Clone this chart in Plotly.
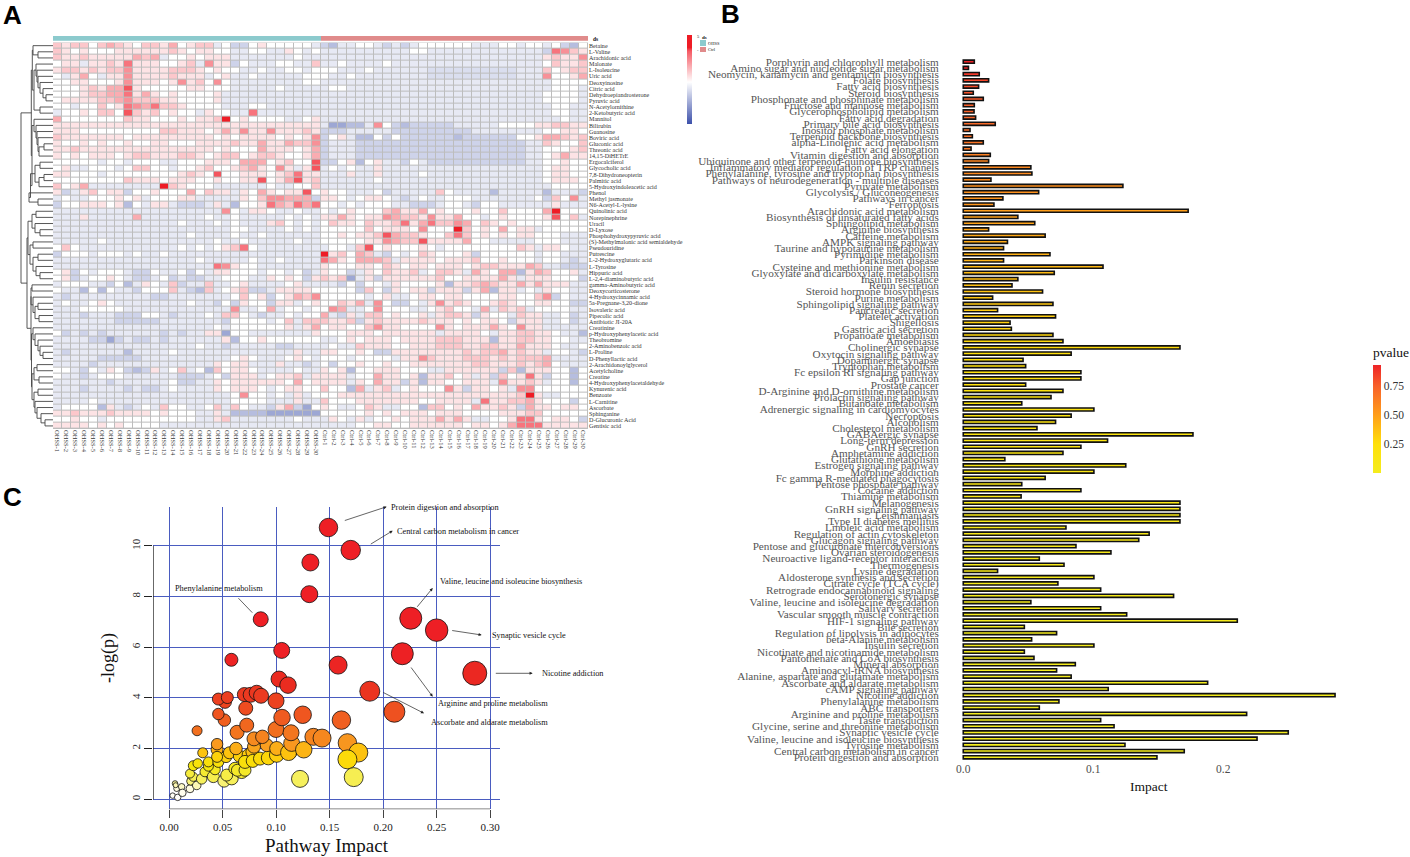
import plotly.graph_objects as go

W, H = 1410, 857
SERIF = "Liberation Serif"

# ---------- Panel A data ----------
metabolites = ["Betaine","L-Valine","Arachidonic acid","Malonate","L-Isoleucine","Uric acid","Deoxyinosine","Citric acid","Dehydroepiandrosterone","Pyruvic acid","N-Acetylornithine","2-Ketobutyric acid","Mannitol","Bilirubin","Guanosine","Boviric acid","Gluconic acid","Threonic acid","14,15-DiHETrE","Ergocalciferol","Glycocholic acid","7,8-Dihydroneopterin","Palmitic acid","5-Hydroxyindoleacetic acid","Phenol","Methyl jasmonate","N6-Acetyl-L-lysine","Quinolinic acid","Norepinephrine","Uracil","D-Lyxose","Phosphohydroxypyruvic acid","(S)-Methylmalonic acid semialdehyde","Pseudouridine","Putrescine","L-2-Hydroxyglutaric acid","L-Tyrosine","Hippuric acid","L-2,4-diaminobutyric acid","gamma-Aminobutyric acid","Deoxycorticosterone","4-Hydroxycinnamic acid","5a-Pregnane-3,20-dione","Isovaleric acid","Pipecolic acid","Antibiotic JI-20A","Creatinine","p-Hydroxyphenylacetic acid","Theobromine","2-Aminobenzoic acid","L-Proline","D-Phenyllactic acid","2-Arachidonoylglycerol","Acetylcholine","Creatine","4-Hydroxyphenylacetaldehyde","Kynurenic acid","Benzoate","L-Carnitine","Ascorbate","Sphinganine","D-Glucuronic Acid","Gentisic acid"]
samples = ["OHSS-%d" % i for i in range(1, 31)] + ["Ctrl-%d" % i for i in range(1, 31)]
sample_group = [0]*30 + [1]*30

heat_ohss = [
[2,1,2,2,0,2,3,2,1,0,2,2,1,3,0,1,2,2,-1,0,-2,-2,0,1,0,0,0,0,0,-1],
[2,1,0,1,0,0,0,1,1,1,1,1,1,2,1,0,1,1,0,0,-1,-1,0,0,-1,-1,1,0,-1,0],
[2,1,1,2,1,1,1,1,1,3,2,3,-1,0,0,1,0,1,1,1,-1,-1,-1,-1,-1,-1,-1,0,-1,-1],
[0,1,1,-1,1,1,2,1,5,1,1,1,0,0,1,2,-1,4,1,1,-2,0,-1,-1,-1,0,0,-1,-1,2],
[1,2,2,1,2,1,2,2,4,1,1,1,1,2,2,2,1,0,1,0,0,-1,-1,0,-1,-1,0,0,-1,0],
[0,-1,1,3,0,-1,1,1,4,1,1,1,1,2,1,1,1,-1,0,1,-1,-1,0,-1,-1,-1,-1,-1,0,0],
[0,0,1,1,0,0,0,1,4,1,1,1,0,1,4,1,2,0,4,0,-1,-1,-1,-1,-1,-1,-1,-1,0,0],
[0,0,0,1,2,1,3,3,6,1,0,0,0,0,0,1,1,0,0,0,-1,-1,-1,-1,-1,0,-1,-1,-1,-1],
[0,0,0,1,2,2,3,3,5,1,3,1,0,1,0,0,0,0,1,-1,-1,-1,-1,-1,-1,-1,-1,-1,-1,-1],
[0,1,1,1,1,2,2,3,4,2,2,2,1,1,0,0,0,0,1,-1,-1,-1,-1,-1,-1,-1,-1,-1,-1,-1],
[0,0,-1,0,0,2,0,1,5,4,3,5,2,2,1,0,0,0,0,-1,-1,-1,0,0,-1,-1,-1,-1,-1,-1],
[-1,0,0,1,0,2,2,0,6,2,1,2,0,1,0,0,-1,1,0,0,-1,-1,5,-1,-1,-1,-1,-1,-1,-1],
[3,0,0,0,0,0,0,0,2,1,1,0,0,0,1,0,1,1,2,7,0,1,0,0,0,0,-1,-1,0,1],
[1,1,1,1,1,1,1,1,1,1,1,1,1,1,1,1,1,1,1,1,1,1,1,1,1,1,1,1,1,1],
[1,1,1,0,0,0,0,0,0,0,0,0,2,2,1,1,1,0,1,3,1,4,1,1,4,1,1,1,2,1],
[2,1,1,1,1,1,1,1,0,1,1,1,1,1,1,1,1,1,0,1,0,1,1,1,1,0,1,0,1,4],
[1,0,0,1,0,1,0,0,1,0,0,1,1,0,0,0,1,1,1,1,2,1,1,3,1,1,3,2,2,4],
[1,1,2,1,1,1,1,1,1,1,1,1,1,1,1,1,1,1,0,1,0,0,0,3,1,1,1,0,1,3],
[1,0,1,0,1,1,1,0,1,2,2,1,1,1,2,2,1,0,1,2,2,0,1,2,2,1,0,0,1,3],
[0,0,0,0,0,-1,0,0,-1,0,0,0,-1,-1,0,0,0,1,1,1,0,3,3,3,0,1,2,0,0,6],
[0,1,-1,-1,0,0,0,-1,0,2,2,0,0,-1,0,0,1,2,0,0,1,2,3,1,0,4,1,-1,1,6],
[1,1,0,0,0,-1,0,0,0,0,0,0,0,0,1,2,1,0,6,0,0,1,1,1,0,1,2,5,1,1],
[0,0,0,0,0,0,0,0,2,1,1,1,0,1,1,1,0,0,1,0,0,1,1,6,0,1,3,6,1,2],
[2,0,1,3,-1,-1,-1,-1,-1,-1,-1,-1,7,2,1,0,0,0,-1,-1,-1,-1,-1,-1,0,-1,-1,0,0,2],
[1,-2,-1,1,2,0,1,1,-2,0,0,1,0,0,0,3,0,2,1,1,-1,1,0,3,1,0,1,1,6,0],
[-1,0,-1,-1,0,0,0,1,0,1,-1,0,0,0,1,1,-1,-1,-1,-1,-1,1,0,2,4,4,3,3,3,-2],
[-2,0,0,1,1,1,0,1,-3,0,-1,1,1,-1,-2,-2,-2,-1,1,-1,-3,0,0,1,5,3,2,5,3,5],
[-1,-1,-1,-1,-1,-1,-1,-1,-1,-1,-1,-1,-1,-1,-1,-1,-1,-1,-1,4,0,-1,1,1,0,-1,-1,0,-1,-1],
[-1,-1,-1,1,-1,-1,-1,-1,-1,3,-1,-1,-1,-1,-1,-1,-1,0,-1,-1,0,-1,-1,-1,-1,-1,0,-1,0,-1],
[-1,-1,-1,-1,-1,-1,-1,-1,-1,-1,-1,-1,-1,-1,0,-1,-1,-1,0,-1,0,-1,-1,-1,1,2,0,-1,0,-1],
[-1,-1,-1,-1,-1,-1,-1,-1,-1,-1,-1,-1,-1,-1,-1,-1,-1,-1,-1,-1,0,0,-1,-1,-1,-1,0,-1,0,-1],
[-1,-1,-1,-1,-1,-1,-1,-1,-1,-1,-1,-1,-1,-1,-1,0,-1,-1,-1,-1,0,-1,-1,0,-1,-1,-1,-1,-1,-1],
[-1,-1,-1,-1,-1,0,-1,-1,-1,-1,-1,-1,-1,-1,-1,-1,-1,-1,0,-1,-1,0,-1,-1,-1,-1,-1,0,-1,-1],
[0,2,0,-1,-1,-1,-1,-1,-1,-1,-1,-1,-1,-1,0,-1,0,-1,0,1,2,5,0,-1,-1,-1,-1,-1,-1,-1],
[-2,0,0,0,-1,0,0,0,-1,0,-1,-1,0,-1,-1,-1,-1,-1,-1,-1,-1,-1,-1,-1,-1,-1,-1,-1,-1,-1],
[-1,-1,-1,-1,-1,-1,-1,-1,-1,-1,-1,-1,-1,-1,-1,-1,0,-1,-1,-1,-1,-1,0,-1,-1,0,-1,-1,-1,-1],
[-1,-1,-1,-1,-1,-1,-1,-1,-1,-1,-1,-1,-1,-1,-1,-1,-1,-1,5,4,1,0,0,-1,-1,-1,-1,-1,-1,-1],
[0,1,-2,0,-1,0,0,0,-1,-2,-2,0,-1,-1,0,-2,0,-1,1,1,0,0,0,-1,0,0,-1,0,-2,-1],
[0,1,-2,-1,0,0,1,0,-1,-2,-2,-1,0,-2,-1,-2,-2,-1,-1,0,0,0,-1,-1,1,0,1,0,-2,1],
[-1,0,0,0,-1,-1,-2,0,-3,-1,1,0,-1,2,-2,-1,-1,2,-1,-1,0,1,-1,-1,-1,-1,0,1,-1,-1],
[0,-1,-1,-3,0,-3,0,-1,-1,-2,0,0,0,2,-1,-2,-3,2,-1,0,1,2,-2,-2,-1,1,1,1,1,0],
[-1,-2,-1,-1,-1,-1,-1,-1,-1,-1,-1,-2,-2,-1,-1,-1,-1,-1,-1,-1,0,2,0,1,-2,0,1,3,2,4],
[-1,0,-1,-1,0,1,0,-1,-1,-1,-1,-1,-1,-1,-1,0,-1,-1,-2,0,-2,1,0,0,-2,1,1,-1,0,1],
[-1,-1,-1,0,0,0,0,0,-1,-1,-1,-1,-1,-1,-1,-1,-1,-1,-1,-1,4,-1,-1,0,3,-1,0,0,-1,0],
[-1,-1,-1,-2,-1,-1,-1,-2,-2,-2,0,0,-1,-2,-1,-1,-1,0,-1,2,2,0,-1,-2,-1,-1,0,-1,0,0],
[-1,-1,-1,-1,-1,-1,-1,-2,-2,-2,-2,-2,-1,-1,-1,-1,-1,-1,-1,-2,0,0,0,0,-1,0,2,-1,2,2],
[-1,-1,-1,-1,-1,-1,-1,-1,-1,-1,-1,-1,-1,-1,-1,-1,-1,-1,0,-1,0,0,0,0,0,0,1,-1,1,3],
[0,-2,-1,-2,-1,-2,-1,-1,-1,-1,-1,-1,-2,-1,-2,-1,-1,1,1,-4,0,0,-1,-1,-1,-1,-1,-1,-1,1],
[-1,-1,-1,-1,-2,-2,-4,-2,-1,-2,-2,-1,-2,-1,-1,-1,-1,-1,-1,1,-3,0,0,1,0,0,0,0,0,0],
[-1,-1,-1,-1,-1,-1,-1,-1,-1,-1,-1,-1,-1,-1,-1,-1,0,-1,-1,-2,-1,-1,-1,-1,-1,-2,-2,-1,-1,-1],
[-1,-2,-1,-1,-1,-1,-1,-1,-3,-1,-1,-1,-1,0,-1,-1,-1,-1,-1,-1,-1,-1,-1,-1,-1,-1,-1,1,-1,-1],
[-1,-1,-1,-1,-1,-2,-2,-2,-2,-2,-1,-1,-1,-1,-1,-1,-1,-1,-1,-1,0,1,0,-1,-1,-1,0,1,0,-1],
[-1,-1,-1,-1,-2,-1,-1,-1,-1,-1,-1,-1,-1,-1,-1,-1,-1,-1,1,0,1,1,-1,-1,-1,1,-1,-1,-2,-1],
[0,0,-1,-2,0,-1,1,0,-2,-3,-2,1,-1,0,2,-1,0,-3,2,0,1,1,0,-1,-1,-1,-1,0,-1,-1],
[0,-1,-1,-2,-1,0,0,0,-1,-1,-1,-1,-1,-1,-2,-2,-2,-1,0,-2,1,1,1,-1,0,1,1,2,-1,1],
[-1,-1,-1,-1,-1,-1,-2,-1,-1,-1,-1,-1,-1,0,-2,-2,-1,-1,1,0,1,1,1,1,1,1,0,3,0,1],
[-1,-1,-1,-2,-1,-1,-1,-1,-2,-1,-2,-2,-1,0,-1,-1,-1,-1,1,0,1,1,1,0,-1,0,1,1,0,0],
[-1,-1,-1,-1,-1,-1,-1,-1,-1,-1,-1,-1,-1,-1,-1,-1,-1,-1,-1,-1,0,4,0,0,-1,0,-1,1,-1,0],
[-1,-1,-1,-1,0,-1,-1,-1,-1,-1,-1,-1,-1,-1,-1,-1,-1,-1,-1,-1,0,0,0,0,-1,-1,-1,1,-1,-1],
[-1,0,0,0,0,-3,1,-1,-2,-1,0,-1,2,0,0,-1,-1,0,2,-1,2,0,-1,-1,-2,1,3,-2,-4,0],
[1,1,2,1,1,1,2,1,1,1,1,0,1,0,0,0,-1,-1,1,-1,-3,-3,-3,-3,-4,-4,-4,-4,-4,-4],
[0,0,1,0,0,-1,0,0,0,0,0,0,0,0,0,0,-1,-1,1,2,-1,-1,-1,-1,-1,-1,-1,0,-1,-1],
[1,1,1,1,0,1,0,1,0,0,0,0,-1,-1,-1,-1,-1,-1,-1,-1,-1,-1,-1,-1,-1,-1,-1,-1,-1,-1],
]
heat_ctrl = [
[-2,-3,-1,-1,0,0,-1,-2,-1,-2,-1,0,0,0,0,0,0,-1,-1,-1,0,0,-1,0,0,-1,0,-2,-3,0],
[-1,-1,-1,-1,-1,-1,-1,-1,-1,-1,0,0,-1,-1,-1,-1,-1,-1,-1,-1,-1,-1,-1,-1,-1,-2,5,4,2,1],
[-1,-1,-1,-1,-1,-1,-1,-1,-1,-1,-1,-1,-1,-1,-1,-1,-1,-1,-1,-1,-1,-1,-1,-1,-1,1,2,1,1,4],
[-1,-1,0,-1,-1,-1,-1,0,-1,-1,-1,-1,-1,-1,-1,-1,-1,-1,-1,-1,-1,-1,-1,-1,-1,0,2,1,1,2],
[0,0,-1,-1,-1,0,-1,-1,-1,-1,-1,-1,-1.5,-1.5,-1.5,-1.5,-1.5,-1.5,-1.5,-1.5,-1.5,-1.5,-1,-1,-1,2,0,1,2,2],
[0,-1,-1,0,-1,-1,-1,-1,-1,-1,-1,-1,-1.5,-1.5,-1.5,-1.5,-1.5,-1.5,-1.5,-1.5,-1.5,-1.5,-1,-1,-1,4,0,0,1,3],
[-1,-1,-1,-1,-1,-1,-1,-1,-1,-1,-1,-1,-1,-1,-1,-1,-1,-1,-1,-1,-1,-1,-1,-1,-1,-1,0,0,0,0],
[-1,0,0,-1,-1,-1,-1,-1,-1,-1,-1,-1,-1,-1,-1,-1,-1,-1,-1,-1,-1,-1,-1,-1,-1,-1,0,0,0,-1],
[-1,-1,-1,-1,-1,-1,-1,-1,-1,-1,-1,-1,-1,-1,-1,-1,-1,-1,-1,-1,-1,-1,-1,-1,-1,0,0,0,0,-1],
[-1,-1,-1,-1,-1,-1,-1,-1,-1,-1,-1,-1,-1,-1,-1,-1,-1,-1,-1,-1,-1,-1,-1,-1,-1,0,0,0,0,-1],
[-1,-1,-1,-1,-1,-1,-1,-1,-1,-1,-1,-1,-1,-1,-1,-1,-1,-1,-1,-1,-1,-1,-1,-1,-1,-1,0,0,-1,-1],
[-1,-1,-1,-1,-1,-1,-1,-1,-1,-1,-1,-1,-1,-1,-1,-1,-1,-1,-1,-1,-1,-1,-1,-1,-1,-1,0,0,-1,-1],
[-1,-1,-1,-1,-1,-1,-1,-1,-1,-1,-1,-1,-1,-1,-1,-1,-1,-1,-1,-1,-1,-1,-1,-1,-1,-1,-1,0,-1,-1],
[-1,-4,-4,-3,-3,-1,4,0,-2,-3,-2,-2,-2,-2,-2,-1,-1,-1,-1,-1,0,0,0,0,1,1,2,2,1,1],
[-2,-2,-2,-1,-1,-1,-1,-1,-2,-2,-2,-2,-2,-2,-2,-2,-2,-1,-1,-1,-1,-1,-1,-1,-1,0,0,1,1,0],
[-2,0,1,-1,-3,-3,0,-2,0,-2,-2,-2,-2,-2,-2,-3,-2,-2,-2,-2,-2,-2,0,0,1,3,3,2,1,2],
[-2,-1,-1,-1,-2,-2,-2,-2,-2,-2,-2,-2,-2,-2,-2,-2,-2,-2,-2,-2,-2,-2,-2,-1,-1,2,1,0,0,2],
[-2,-1,-1,-1,-2,-2,-2,-2,-2,-2,-2,-2,-2,-2,-2,-2,-2,-2,-2,-2,-2,-2,-2,-1,-1,0,0,0,1,2],
[-2,-1,-1,-1,-2,-2,-2,-2,-2,-2,-2,-2,-2,-2,-2,-2,-2,-2,-2,-2,-2,-2,-2,-1,-1,0,1,3,1,1],
[-2,-2,0,1,-3,0,1,-1,-1,-2,0,-1,-2,-2,-2,-2,-2,-2,-2,-2,-2,-2,-2,-1,-1,0,0,1,0,0],
[-1,0,-1,0,-1,-1,1,-1,-1,-1,-1,-1,-1,-1,-1,-1,-1,-1,-1,-1,-1,-1,-1,-1,-1,0,1,1,0,0],
[-1,-1,-1,1,-1,-1,1,-1,-1,-1,-1,0,-1,-1,-1,-1,-1,-1,-1,-1,-1,-1,-1,-1,-1,0,1,1,0,0],
[-1,-1,-1,-1,-1,-1,0,-1,-1,-1,-1,-1,-1,-1,-1,-1,-1,-1,-1,-1,-1,-1,-1,-1,-1,0,1,1,1,0],
[-1,-1,-1,-1,-1,-1,-1,-1,-1,-1,-1,-1,-1,-1,-1,-1,-1,-1,-1,-1,-1,-1,-1,-1,-1,-1,0,0,0,0],
[1,0,0,-1,-1,-1,0,-2,-1,-1,-1,-1,-1,2,0,-1,-1,-1,-1,-3,-1,-1,-1,-1,-1,-3,-1,-1,-1,-2],
[1,1,0,-1,0,1,1,0,-1,-2,-1,0,-1,-1,0,0,0,-1,-1,-1,-1,-1,-1,-1,0,-2,2,0,4,-1],
[0,0,-1,0,-1,0,0,0,-1,-1,-2,-2,-2,-1,0,0,-1,-2,0,0,-1,-1,-1,-1,-1,-1,1,-1,-1,-1],
[0,-1,0,1,0,0,0,2,3,1,1,3,0,1,0,0,0,1,0,0,2,0,0,0,0,3,7,0,0,0],
[1,1,3,1,0,1,1,4,3,2,2,1,4,1,1,3,0,0,-1,0,1,0,0,0,0,1,6,0,2,-1],
[0,2,1,1,0,2,1,1,2,5,1,3,5,2,2,4,3,0,2,1,0,1,0,0,0,0,0,0,0,0],
[0,0,0,0,0,2,0,1,1,1,0,4,0,0,0,7,2,0,1,0,3,0,1,1,-1,0,0,0,0,0],
[0,0,1,0,1,1,2,6,3,2,2,1,0,0,2,5,2,0,1,0,1,0,1,1,0,0,0,-1,-1,-1],
[0,0,0,0,0,1,1,4,3,2,2,6,1,1,1,1,3,0,0,-1,-1,-1,-1,-1,0,0,0,-1,-1,-1],
[-1,0,0,-1,2,6,0,1,0,0,0,1,0,-1,0,0,0,0,0,0,0,0,2,1,-1,1,1,0,-1,-1],
[7,1,2,0,3,2,-1,-2,0,-1,0,2,1,0,0,0,1,-2,0,0,0,0,0,0,-1,0,0,-1,-1,-1],
[5,3,1,0,3,3,3,2,-1,1,1,1,1,0,1,1,1,2,0,0,1,0,0,0,-1,0,0,-1,-2,-1],
[1,0,0,0,1,1,0,2,1,0,1,1,0,1,1,1,0,1,2,2,1,1,1,3,2,-1,-1,-2,-2,-2],
[1,0,0,-2,-1,1,0,2,1,1,2,-1,0,2,2,1,-1,3,1,0,3,3,-3,1,3,2,0,0,1,-1],
[2,1,2,-4,-1,1,-2,1,1,1,1,1,1,2,0,0,1,1,1,1,3,1,-1,1,1,1,0,0,0,-2],
[-1,-1,-2,0,-2,0,0,-1,1,0,0,0,0,1,-3,1,1,2,3,2,1,1,3,1,3,1,1,1,-1,-1],
[0,0,0,0,-2,2,0,-2,1,0,1,1,-2,1,1,1,-2,1,3,-3,1,1,-1,0,-1,1,0,0,-1,-1],
[0,0,0,0,0,-1,0,1,-1,-1,0,1,1,0,1,1,0,0,0,0,1,1,0,0,2,4,-2,0,-1,-1],
[0,0,2,1,3,-1,4,0,-2,-2,0,-1,1,4,1,2,1,0,0,1,2,1,0,0,1,1,0,0,-2,-2],
[0,4,3,-1,-1,0,4,0,0,0,-1,-1,0,1,2,0,0,-1,3,-1,2,1,2,-1,0,0,0,0,-1,-1],
[3,-1,-2,1,-1,2,2,0,1,0,0,1,-1,1,2,2,1,-2,1,0,0,-1,2,1,1,-1,-1,0,-2,-1],
[2,1,1,2,-2,1,2,1,1,1,1,2,1,1,1,0,1,0,1,1,0,-2,1,1,1,-1,-1,0,-2,-1],
[0,1,1,0,0,2,4,1,1,0,0,0,0,4,1,0,1,1,1,3,1,0,4,1,1,-1,-1,-1,-1,-1],
[0,0,0,1,1,1,0,1,1,1,1,1,1,-1,1,1,1,1,0,-1,1,1,2,2,1,1,0,-1,-1,-3],
[-1,-1,0,1,0,1,1,1,0,1,1,1,1,2,2,2,1,1,1,-3,1,1,2,2,1,1,0,0,-1,-1],
[-1,0,-1,-1,2,1,1,1,0,0,1,1,1,2,2,2,1,1,2,2,1,1,3,1,1,1,0,-1,-1,0],
[1,1,0,0,1,0,-2,-2,1,1,1,1,1,1,1,1,2,1,2,2,3,1,2,1,1,-1,0,0,-1,-2],
[0,0,0,-1,0,0,0,0,-1,1,1,4,2,1,1,1,2,2,2,1,2,1,2,2,2,3,-1,-1,-1,-1],
[0,-2,0,0,1,0,0,1,0,0,1,1,1,1,1,1,1,2,2,1,1,1,2,1,2,3,0,-1,-1,-1],
[1,0,1,-3,0,0,1,1,1,0,0,0,-1,-1,1,1,1,1,1,1,-2,2,-3,1,1,1,0,0,-3,0],
[1,1,1,-1,0,0,3,1,1,0,1,-3,1,1,2,0,1,-1,1,-2,2,0,1,5,1,-2,0,0,-3,0],
[1,1,1,-1,1,0,3,1,1,-2,1,-3,1,1,0,0,1,1,1,-1,4,1,1,2,1,-1,0,0,-3,0],
[2,0,0,-3,3,-1,1,2,-1,0,1,0,0,0,4,1,-2,1,1,0,1,-1,4,4,0,0,0,0,0,0],
[0,0,1,1,1,1,1,1,1,1,1,1,1,1,1,1,1,1,1,1,1,1,2,7,1,-1,-1,0,0,0],
[2,0,0,0,1,1,1,1,1,1,1,0,0,1,1,1,1,-1,5,1,1,2,2,3,1,0,0,0,-2,0],
[1,0,-1,-1,0,2,1,-1,-1,0,0,-3,2,2,0,1,0,3,1,1,2,1,-2,3,1,1,0,1,1,0],
[0,0,0,0,0,1,0,1,0,1,1,1,0,1,1,1,0,0,0,0,1,1,1,2,2,0,0,0,0,0],
[-1,1,0,-1,1,-1,0,0,1,0,1,1,1,3,1,3,1,-1,-1,0,0,1,5,5,1,0,1,1,0,-2],
[-1,-1,-1,-1,0,0,1,1,0,0,1,1,1,1,1,1,0,1,1,0,1,3,5,5,5,1,1,1,1,1],
]
# Row clustering: [merge height, left, right]; integers are row indices
cluster_top = [21.7,
    [20.7, [20, 0, [15, 1, 2]],
           [19, [17, 3, [16, 4, [15, 5, [13, 6, [10, 7, [7, 8, 9]]]]]], [13, 10, 11]]],
    [21, [19, 12, [17, 13, [16, 14, [15, 15, [14, [9, 16, 17], 18]]]]],
         [22.5, [18, [13, 19, 20], [14, [9, 21, 22], 23]], [24, 24, [15, 25, 26]]]]]
cluster_low = [26,
    [25, [21, [17, 27, 28], [18, 29, [13, 30, 31]]],
         [23, [20, 32, 33], [20, [15, 34, 35], [17, 36, [13, 37, 38]]]]],
    [22, [22, [21, 39, 40], [20, 41, [18, [15, 42, 43], [14, 44, 45]]]],
         [21.5, [20, 46, [18, 47, [15, 48, [13, 49, [10, 50, 51]]]]],
                [21, [19, [16, 52, 53], [14, 54, 55]], [19, [15, 56, 57], [18, 58, [16, 59, [12, 60, [8, 61, 62]]]]]]]]]
cluster_root = [32, cluster_top, cluster_low]

# ---------- Panel B data ----------
pathways = ["Porphyrin and chlorophyll metabolism","Amino sugar and nucleotide sugar metabolism","Neomycin, kanamycin and gentamicin biosynthesis","Folate biosynthesis","Fatty acid biosynthesis","Steroid biosynthesis","Phosphonate and phosphinate metabolism","Fructose and mannose metabolism","Glycerophospholipid metabolism","Fatty acid degradation","Primary bile acid biosynthesis","Inositol phosphate metabolism","Terpenoid backbone biosynthesis","alpha-Linolenic acid metabolism","Fatty acid elongation","Vitamin digestion and absorption","Ubiquinone and other terpenoid-quinone biosynthesis","Inflammatory mediator regulation of TRP channels","Phenylalanine, tyrosine and tryptophan biosynthesis","Pathways of neurodegeneration - multiple diseases","Pyruvate metabolism","Glycolysis / Gluconeogenesis","Pathways in cancer","Ferroptosis","Arachidonic acid metabolism","Biosynthesis of unsaturated fatty acids","Sphingolipid metabolism","Arginine biosynthesis","Caffeine metabolism","AMPK signaling pathway","Taurine and hypotaurine metabolism","Pyrimidine metabolism","Parkinson disease","Cysteine and methionine metabolism","Glyoxylate and dicarboxylate metabolism","Insulin resistance","Renin secretion","Steroid hormone biosynthesis","Purine metabolism","Sphingolipid signaling pathway","Pancreatic secretion","Platelet activation","Shigellosis","Gastric acid secretion","Propanoate metabolism","Amoebiasis","Cholinergic synapse","Oxytocin signaling pathway","Dopaminergic synapse","Tryptophan metabolism","Fc epsilon RI signaling pathway","Gap junction","Prostate cancer","D-Arginine and D-ornithine metabolism","Prolactin signaling pathway","Butanoate metabolism","Adrenergic signaling in cardiomyocytes","Necroptosis","Alcoholism","Cholesterol metabolism","GABAergic synapse","Long-term depression","GnRH secretion","Amphetamine addiction","Glutathione metabolism","Estrogen signaling pathway","Morphine addiction","Fc gamma R-mediated phagocytosis","Pentose phosphate pathway","Cocaine addiction","Thiamine metabolism","Melanogenesis","GnRH signaling pathway","Leishmaniasis","Type II diabetes mellitus","Linoleic acid metabolism","Regulation of actin cytoskeleton","Glucagon signaling pathway","Pentose and glucuronate interconversions","Ovarian steroidogenesis","Neuroactive ligand-receptor interaction","Thermogenesis","Lysine degradation","Aldosterone synthesis and secretion","Citrate cycle (TCA cycle)","Retrograde endocannabinoid signaling","Serotonergic synapse","Valine, leucine and isoleucine degradation","Salivary secretion","Vascular smooth muscle contraction","HIF-1 signaling pathway","Bile secretion","Regulation of lipolysis in adipocytes","beta-Alanine metabolism","Insulin secretion","Nicotinate and nicotinamide metabolism","Pantothenate and CoA biosynthesis","Mineral absorption","Aminoacyl-tRNA biosynthesis","Alanine, aspartate and glutamate metabolism","Ascorbate and aldarate metabolism","cAMP signaling pathway","Nicotine addiction","Phenylalanine metabolism","ABC transporters","Arginine and proline metabolism","Taste transduction","Glycine, serine and threonine metabolism","Synaptic vesicle cycle","Valine, leucine and isoleucine biosynthesis","Tyrosine metabolism","Central carbon metabolism in cancer","Protein digestion and absorption"]
impact = [.0085,.004,.0123,.0195,.0118,.0077,.0154,.0085,.0083,.0095,.0246,.0052,.007,.0154,.006,.0208,.0195,.052,.0528,.0213,.1228,.058,.0305,.0236,.173,.042,.055,.0195,.063,.034,.031,.0667,.031,.1075,.07,.042,.0375,.061,.0226,.069,.0264,.071,.036,.037,.069,.0767,.1667,.083,.046,.048,.0905,.0905,.048,.0767,.0675,.045,.1005,.083,.071,.0567,.1767,.111,.0905,.0767,.032,.125,.1005,.063,.045,.0905,.0445,.1667,.1667,.1667,.1667,.079,.143,.135,.0867,.1136,.0585,.0775,.0264,.1005,.0728,.1057,.1618,.052,.1057,.1257,.2108,.047,.0718,.0526,.1005,.047,.0544,.0862,.0718,.083,.188,.1115,.286,.0736,.0585,.218,.1057,.116,.25,.226,.1244,.17,.149]
pvalue = [.93,.92,.87,.83,.81,.79,.77,.75,.74,.73,.71,.7,.69,.67,.66,.62,.6,.59,.58,.57,.56,.55,.54,.53,.5,.49,.48,.47,.46,.45,.44,.43,.42,.4,.39,.38,.37,.36,.35,.34,.33,.32,.31,.3,.29,.28,.27,.26,.25,.24,.24,.23,.22,.21,.21,.2,.19,.19,.18,.17,.17,.16,.16,.15,.14,.14,.13,.13,.12,.12,.11,.11,.1,.1,.09,.09,.08,.08,.07,.07,.07,.06,.06,.05,.05,.05,.04,.04,.04,.03,.03,.03,.02,.02,.02,.02,.02,.01,.01,.01,.01,.01,.007,.005,.004,.003,.002,.002,.001,.001,.001,.0001,.00002]

# ---------- Panel C data ----------
bubble_impact = [.0034,.0056,.0072,.0062,.0081,.0118,.0125,.0196,.0202,.0259,.0227,.0305,.0196,.0336,.0414,.0514,.0586,.0539,.043,.0368,.0227,.0268,.0368,.0461,.0679,.0617,.0639,.071,.0315,.0449,.0449,.0533,.0564,.0657,.0741,.071,.0779,.0782,.085,.0928,.1006,.1125,.0626,.0794,.0794,.0913,.1006,.0872,.0449,.0262,.0636,.0726,.1,.0517,.0461,.0717,.0523,.0461,.0545,.0704,.0763,.0819,.086,.1,.1056,.1028,.1112,.0583,.1053,.0857,.1117,.1146,.114,.1259,.1224,.1349,.143,.1667,.1769,.1667,.1726,.1249,.1611,.2106,.1876,.158,.218,.2857,.2259,.2501,.1311,.1321,.1698,.149]
bubble_logp = [.14,.62,.42,.55,.07,.49,.25,.41,.71,.54,.88,.8,1.01,1.08,.89,.72,.82,.95,1.17,1.3,1.32,1.41,1.47,1.47,1.08,1.21,1.14,1.14,1.83,1.96,2.17,1.67,1.83,1.7,1.74,1.47,1.87,1.51,1.6,1.63,1.74,1.86,2.0,2.07,2.38,2.13,2.0,2.46,1.67,2.7,2.64,2.92,2.75,3.12,3.36,3.59,3.84,3.95,4.01,4.13,4.12,4.2,4.08,3.88,3.22,4.74,4.5,5.5,5.87,7.1,1.84,2.2,2.62,1.95,.8,2.46,2.41,2.22,1.84,1.57,.87,3.33,3.12,3.45,4.26,5.29,5.74,4.97,7.14,6.67,8.09,9.34,9.83,10.72]
bubble_size = [5.5,5.5,6,5,6.5,6.5,7.5,8,8,8.5,9,10.5,9,10,12,12.5,13,12,10.5,10,10,9.5,10,11,13.5,12.5,12,12,10,12,11.5,11.5,12,12,12.5,13,13,13,13,14,14.5,15,12.5,13,14,13,14,13.5,11,10,14,14,16,12.5,11.5,14,13,12,12,14,15,15,15,16,16.5,16,16.5,13,16,15,16,16,16,16.5,17,17,18,18.5,19,19,19,17.5,18.5,21,20,18,22,24,22,22.5,17,17,19.5,18.5]

bubble_labels = ["Protein digestion and absorption","Central carbon metabolism in cancer","Valine, leucine and isoleucine biosynthesis","Synaptic vesicle cycle","Nicotine addiction","Arginine and proline metabolism","Ascorbate and aldarate metabolism","Phenylalanine metabolism"]
bubble_ticks_x = [0, .05, .1, .15, .2, .25, .3]
bubble_ticks_y = [0, 2, 4, 6, 8, 10]


def fx(px):
    return px / W

def fy(py):
    return 1 - py / H

def pad30(row):
    return (list(row) + [-1] * 30)[:30]


# Heat colours; z=-8..9 so that white sits where the legend bar has it
heat_scale = [[0, "#3c50aa"], [0.4706, "#ffffff"], [0.82, "#f55a64"], [0.86, "#ee1c25"], [1, "#ee1c25"]]
heat_values = [pad30(a) + pad30(b) for a, b in zip(heat_ohss, heat_ctrl)]
row_idx = list(range(len(metabolites)))
col_idx = list(range(len(samples)))

fig = go.Figure()

# --- Panel A: group strip
fig.add_trace(go.Heatmap(z=[sample_group], x=col_idx, y=[0], xaxis="x2", yaxis="y2", showscale=False,
                         colorscale=[[0, "#8ccacd"], [1, "#e08b8b"]], hoverinfo="skip"))
# --- Panel A: main heat map
fig.add_trace(go.Heatmap(z=heat_values, x=col_idx, y=row_idx, xaxis="x", yaxis="y", zmin=-8, zmax=9,
                         colorscale=heat_scale, xgap=1, ygap=1, hoverinfo="skip",
                         colorbar=dict(x=fx(687), xanchor="left", y=fy(35), yanchor="top",
                                       thicknessmode="pixels", thickness=4.5, lenmode="pixels", len=89,
                                       xpad=0, ypad=0, outlinewidth=0, tickvals=[], showticklabels=False)))

# --- Panel A: dendrogram
dx, dy = [], []
def walk(node):
    if isinstance(node, int):
        return node, 0
    h, left, right = node
    y1, h1 = walk(left)
    y2, h2 = walk(right)
    dx.extend([h1, h, h, h2, None])
    dy.extend([y1, y1, y2, y2, None])
    return (y1 + y2) / 2, h
ry, rh = walk(cluster_root)
fig.add_trace(go.Scatter(x=dx, y=dy, mode="lines", xaxis="x3", yaxis="y3", line=dict(color="#444444", width=0.9),
                         hoverinfo="skip", showlegend=False))

# --- Panel B
bar_rows = list(range(len(pathways)))
fig.add_trace(go.Bar(x=impact, y=bar_rows, orientation="h", xaxis="x4", yaxis="y4", width=0.5,
                     marker=dict(color=pvalue, cmin=0, cmax=0.93,
                                 colorscale=[[0, "#f4ec1e"], [0.27, "#ffe00a"], [0.54, "#ff9d1a"], [0.8, "#f8622a"], [1, "#ee2428"]],
                                 line=dict(color="#111111", width=1.6),
                                 colorbar=dict(x=fx(1373), xanchor="left", y=fy(365), yanchor="top",
                                               thicknessmode="pixels", thickness=7.5, lenmode="pixels", len=107.7,
                                               xpad=0, ypad=0, outlinewidth=0, ticks="",
                                               tickvals=[.25, .5, .75], ticktext=["0.25", "0.50", "0.75"],
                                               tickfont=dict(family=SERIF, size=11.5, color="#333333"))),
                     hoverinfo="skip", showlegend=False))

# --- Panel C: base-graphics style axes, then bubbles
fig.add_trace(go.Scatter(x=[0, .3], y=[-.4, -.4], mode="lines", xaxis="x5", yaxis="y5", cliponaxis=False,
                         line=dict(color="#666666", width=1.5), hoverinfo="skip", showlegend=False))
fig.add_trace(go.Scatter(x=[-.0147, -.0147], y=[0, 10], mode="lines", xaxis="x5", yaxis="y5", cliponaxis=False,
                         line=dict(color="#111111", width=1.2), hoverinfo="skip", showlegend=False))
fig.add_trace(go.Scatter(x=bubble_impact, y=bubble_logp, mode="markers", xaxis="x5", yaxis="y5", cliponaxis=False,
                         marker=dict(size=bubble_size, color=bubble_logp, cmin=0, cmax=6, opacity=1,
                                     colorscale=[[0, "#ffffff"], [.07, "#fffbe0"], [.13, "#f6f060"], [.22, "#f5e60c"], [.27, "#fdd70a"],
                                                 [.31, "#fdc00f"], [.35, "#faa01f"], [.45, "#f2701f"], [.58, "#ee5020"], [.75, "#ea2c20"], [1, "#ee1f25"]],
                                     line=dict(color="#111111", width=0.8)),
                         hoverinfo="skip", showlegend=False))

def dom(a, b, total):
    return [a / total, b / total]

layout = dict(
    width=W, height=H, margin=dict(l=0, r=0, t=0, b=0, autoexpand=False),
    paper_bgcolor="white", plot_bgcolor="white", font=dict(family=SERIF, color="#222222"), showlegend=False,
    # main heatmap
    xaxis=dict(domain=dom(53, 588, W), range=[-.5, 59.5], anchor="y", tickmode="array", tickvals=col_idx, ticktext=samples,
               tickangle=90, tickfont=dict(family=SERIF, size=6.5, color="#333333"), ticks="", showgrid=False, zeroline=False),
    yaxis=dict(domain=[1 - 429 / H, 1 - 42.6 / H], range=[62.5, -.5], anchor="x", side="right", tickmode="array",
               tickvals=row_idx, ticktext=metabolites, tickfont=dict(family=SERIF, size=6.1, color="#333333"),
               ticks="", showgrid=False, zeroline=False),
    # group strip
    xaxis2=dict(domain=dom(53, 588, W), range=[-.5, 59.5], anchor="y2", visible=False),
    yaxis2=dict(domain=[1 - 40.7 / H, 1 - 36 / H], anchor="x2", visible=False),
    # dendrogram
    xaxis3=dict(domain=dom(15, 53, W), range=[38, 0], anchor="y3", visible=False),
    yaxis3=dict(domain=[1 - 429 / H, 1 - 42.6 / H], range=[62.5, -.5], anchor="x3", visible=False),
    # bars
    xaxis4=dict(domain=dom(950, 1350, W), range=[-.0102, .2975], anchor="y4", tickmode="array", tickvals=[0, .1, .2],
                ticktext=["0.0", "0.1", "0.2"], tickfont=dict(family=SERIF, size=11.5, color="#4d4d4d"), ticks="", showgrid=False, zeroline=False),
    yaxis4=dict(domain=[1 - 760.4 / H, 1 - 58.6 / H], range=[112.5, -.5], anchor="x4", tickmode="array", tickvals=bar_rows,
                ticktext=pathways, tickfont=dict(family=SERIF, size=11.2, color="#555555"), ticks="outside", ticklen=8,
                tickcolor="white", showgrid=False, zeroline=False),
    # bubbles
    xaxis5=dict(domain=dom(153.3, 500, W), range=[-.0147, .3093], anchor="y5", tickmode="array", tickvals=bubble_ticks_x,
                ticktext=["%.2f" % v for v in bubble_ticks_x], tickfont=dict(family=SERIF, size=11, color="#222222"),
                ticks="outside", ticklen=7.5, tickcolor="#444444", gridcolor="#4a5cc0", gridwidth=1, showgrid=True, zeroline=False),
    yaxis5=dict(domain=[1 - 809.3 / H, 1 - 507 / H], range=[-.4, 11.53], anchor="x5", tickmode="array", tickvals=bubble_ticks_y,
                ticktext=[str(v) for v in bubble_ticks_y], tickangle=-90, tickfont=dict(family=SERIF, size=11, color="#222222"),
                ticks="outside", ticklen=8, tickcolor="#222222", gridcolor="#4a5cc0", gridwidth=1, showgrid=True, zeroline=False),
)
fig.update_layout(**layout)

ann = []
def text(px, py, s, size, xanchor="left", color="#111111", family=SERIF, bold=False, angle=0):
    ann.append(dict(x=fx(px), y=fy(py), xref="paper", yref="paper", text="<b>%s</b>" % s if bold else s, showarrow=False,
                    xanchor=xanchor, yanchor="middle", textangle=angle, borderpad=0,
                    font=dict(family=family, size=size, color=color)))

def arrow(x0, y0, x1, y1, head=2):
    ann.append(dict(x=fx(x1), y=fy(y1), xref="paper", yref="paper", ax=x0 - x1, ay=y0 - y1, axref="pixel", ayref="pixel", text="",
                    showarrow=True, arrowhead=head, arrowsize=0.9, arrowwidth=0.7, arrowcolor="#222222", standoff=0, startstandoff=0))

# Panel letters
text(2, 15, "A", 26, family="Liberation Sans", bold=True, color="black")
text(720, 14, "B", 26, family="Liberation Sans", bold=True, color="black")
text(2, 497, "C", 26, family="Liberation Sans", bold=True, color="black")
# Panel A legend and strip label
text(592, 38.5, "ds", 5.5, bold=True)
text(701, 37, "ds", 5, bold=True)
text(696, 36, "5", 4.5)
text(696, 50, "-", 4.5)
text(707, 43, "OHSS", 4.5)
text(707, 49.5, "Ctrl", 4.5)
# Panel B titles
text(1149, 786, "Impact", 13.5, xanchor="center")
text(1372, 352, "pvalue", 13.5)
# Panel C titles and callouts
text(327, 845, "Pathway Impact", 19, xanchor="center")
text(108, 658, "-log(p)", 18, xanchor="center", angle=-90)
label_spots = [(390.3, 507), (395.7, 531.3), (439.3, 581.3), (490.7, 635), (541, 673.3), (437.3, 703.3), (430.3, 722.3), (174.3, 588.3)]
for (lx, ly), s in zip(label_spots, bubble_labels):
    text(lx, ly, s, 8.3)
arrow(343.3, 521, 386.7, 506.7)
arrow(369.3, 545, 392.7, 530.7)
arrow(416, 608.3, 432.7, 588)
arrow(450.7, 630.3, 481.7, 635)
arrow(494.3, 673.3, 532.7, 673.3)
arrow(410, 666, 432.7, 696.7)
arrow(381.7, 691.7, 424, 713.3)
arrow(237, 596.7, 252.3, 612.7, head=0)

shapes = [
    dict(type="rect", xref="paper", yref="paper", x0=fx(700), x1=fx(706), y0=fy(46), y1=fy(40), fillcolor="#8ccacd", line=dict(width=0)),
    dict(type="rect", xref="paper", yref="paper", x0=fx(700), x1=fx(706), y0=fy(52), y1=fy(47), fillcolor="#e08b8b", line=dict(width=0)),
    # Grey cell borders of the heat map show through its gaps
    dict(type="rect", layer="below", xref="x domain", yref="y domain", x0=0, x1=1, y0=0, y1=1, fillcolor="#bdbdbd", line=dict(width=0)),
]
fig.update_layout(annotations=ann, shapes=shapes)

fig.write_html("out.html", config={"displayModeBar": False}, post_script="document.body.style.margin='0';document.body.style.overflow='hidden';")
